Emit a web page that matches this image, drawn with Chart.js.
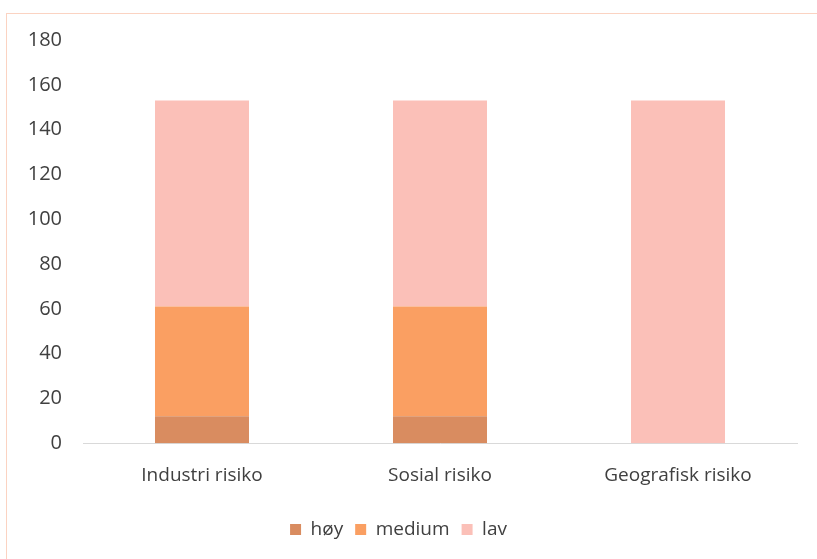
<!DOCTYPE html>
<html>
<head>
<meta charset="utf-8">
<script src="https://cdn.jsdelivr.net/npm/chart.js@4"></script>
<style>
  html, body { margin: 0; padding: 0; background: #fff; }
  #wrap { position: relative; width: 817px; height: 559px; }
  #frame { position: absolute; left: 6px; top: 13px; width: 820px; height: 560px; border: 1px solid #fbd3c2; box-sizing: border-box; }
  canvas { position: absolute; left: 0; top: 0; }
</style>
</head>
<body>
<div id="wrap">
  <div id="frame"></div>
  <canvas id="riskChart" width="817" height="559"></canvas>
</div>
<script>
var categories = ["Industri risiko", "Sosial risiko", "Geografisk risiko"];
var hoy = [12, 12, 0];
var medium = [49, 49, 0];
var lav = [92, 92, 153];

var ctx = document.getElementById("riskChart").getContext("2d");
Chart.defaults.font.family = "'Open Sans', 'Liberation Sans', sans-serif";
Chart.defaults.font.size = 19;
Chart.defaults.color = "#404040";

var riskChart = new Chart(ctx, {
  type: "bar",
  data: {
    labels: categories,
    datasets: [
      { label: "høy", data: hoy, backgroundColor: "#d98c60", categoryPercentage: 1, barPercentage: 0.395 },
      { label: "medium", data: medium, backgroundColor: "#fa9f62", categoryPercentage: 1, barPercentage: 0.395 },
      { label: "lav", data: lav, backgroundColor: "#fbc0b8", categoryPercentage: 1, barPercentage: 0.395 },
    ],
  },
  options: {
    responsive: false,
    animation: false,
    layout: { padding: { left: 0, top: 40, right: 20, bottom: 10 } },
    plugins: {
      tooltip: { enabled: false },
      legend: {
        position: "bottom",
        labels: {
          boxWidth: 11,
          boxHeight: 11,
          padding: 12,
          color: "#404040",
        },
      },
    },
    scales: {
      x: {
        stacked: true,
        grid: { display: false, drawTicks: false },
        border: { display: true, color: "#d9d9d9" },
        ticks: { padding: 21 },
      },
      y: {
        stacked: true,
        min: 0,
        max: 180,
        afterFit: function (axis) { axis.width = 83; },
        grid: { display: false, drawTicks: false },
        border: { display: false },
        ticks: { stepSize: 20, padding: 21, font: { size: 20 } },
      },
    },
  },
});
</script>
</body>
</html>
